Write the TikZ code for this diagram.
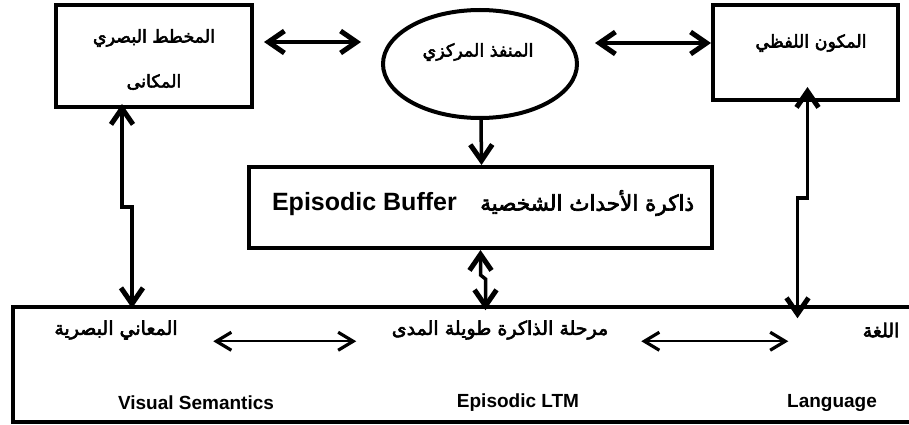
\documentclass[tikz,border=0pt]{standalone}
\usepackage{fontspec}
\setmainfont{Liberation Sans}
\newfontfamily\arabicfont[Script=Arabic,FakeBold=3]{DejaVu Sans}
\TeXXeTstate=1
\usetikzlibrary{arrows.meta,shapes.geometric,calc}
\newcommand{\artxt}[1]{{\arabicfont\beginR #1\endR}}
\tikzset{
  bigbarb/.tip={Straight Barb[length=16pt,width=22pt,line width=5pt]},
  smallbarb/.tip={Straight Barb[length=15pt,width=18pt,line width=3.2pt]}
}
\begin{document}
\begin{tikzpicture}[x=1pt,y=-1pt,
  box/.style={draw, line width=4pt, inner sep=0pt, rectangle},
  txt/.style={inner sep=0pt, anchor=center},
  artop/.style={txt, font=\fontsize{17.5}{20}\selectfont},
  arbot/.style={txt, font=\fontsize{19}{22}\selectfont},
  enbot/.style={txt, font=\fontsize{19}{22}\selectfont\bfseries},
  dbl/.style={line width=3.5pt, line join=miter, bigbarb-bigbarb},
  sgl/.style={line width=3.5pt, -bigbarb},
  thindbl/.style={line width=2.4pt, smallbarb-smallbarb}
]
\useasboundingbox (0,0) rectangle (909,425);
\fill[white] (0,0) rectangle (909,425);

% boxes
\node[box, minimum width=196pt, minimum height=102pt] (lbox) at (154,56) {};
\node[draw, ellipse, line width=4pt, inner sep=0pt, minimum width=194pt, minimum height=108pt] (ell) at (480,64) {};
\node[box, minimum width=185pt, minimum height=95pt] (rbox) at (805.5,52.5) {};
\node[box, minimum width=463pt, minimum height=81pt] (buf) at (480.5,207.5) {};
\node[box, line width=3.5pt, minimum width=917pt, minimum height=115pt] (ltm) at (471.5,364.5) {};

% texts
\node[artop] (t1) at (154,38) {\artxt{المخطط البصري}};
\node[artop] (t2) at (154,82) {\artxt{المكانى}};
\node[artop] (t3) at (478,52) {\artxt{المنفذ المركزي}};
\node[artop] (t4) at (811,43) {\artxt{المكون اللفظي}};
\node[txt, anchor=east, font=\fontsize{25}{28}\selectfont\bfseries] (ben) at (457,204) {Episodic Buffer};
\node[txt, anchor=west, font=\fontsize{21.5}{26}\selectfont] (bar) at (480,203) {\artxt{ذاكرة الأحداث الشخصية}};
\node[arbot] (a1) at (116,330) {\artxt{المعاني البصرية}};
\node[arbot] (a2) at (500,330) {\artxt{مرحلة الذاكرة طويلة المدى}};
\node[arbot] (a3) at (881,330) {\artxt{اللغة}};
\node[enbot] (e1) at (196,403) {Visual Semantics};
\node[enbot] (e2) at (518,403) {Episodic LTM};
\node[enbot] (e3) at (832,403) {Language};

% connectors
\draw[dbl] ($(lbox.east)+(10,-14)$) -- ($(ell.west)+(-20,-22)$);
\draw[dbl] ($(ell.east)+(16,-21)$) -- ($(rbox.west)+(0,-9.5)$);
\draw[sgl] ($(ell.south)+(1,0)$) -- ($(buf.north)+(1,0)$);
\draw[dbl] ($(lbox.south)+(-32,-5)$) -- ++(0,103) -- ++(10,0) coordinate (lj) -- ($(lj |- ltm.north)+(0,3)$);
\draw[dbl] ($(rbox.south)+(2,-15)$) -- ++(0,111) -- ++(-10,0) coordinate (rj) -- ($(rj |- ltm.north)+(0,13)$);
\draw[dbl] (buf.south) -- ++(0,25) -- ++(5,4) coordinate (mj) -- ($(mj |- ltm.north)+(0,5)$);
\draw[thindbl] ($(ltm.north west)+(202,36)$) -- ++(143,0);
\draw[thindbl] ($(ltm.north west)+(630,36)$) -- ++(147,0);
\end{tikzpicture}
\end{document}
